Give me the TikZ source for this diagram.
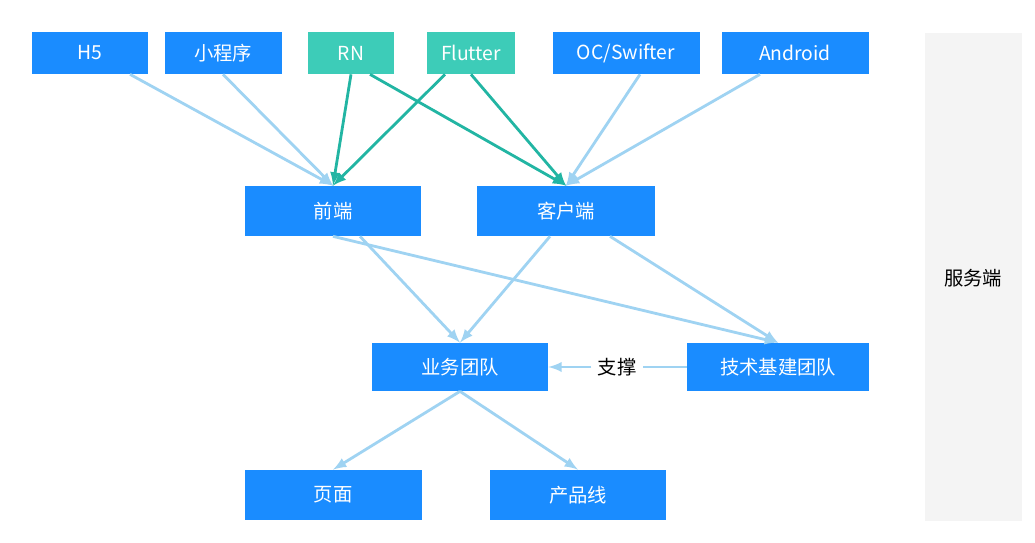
\documentclass[tikz,border=0pt]{standalone}
\usepackage{fontspec}
\setmainfont{Noto Sans CJK SC}
\definecolor{boxblue}{HTML}{1A8CFF}
\definecolor{boxteal}{HTML}{3DCCB8}
\definecolor{linkblue}{HTML}{9FD3F2}
\definecolor{linkteal}{HTML}{22B5A3}
\definecolor{srvgray}{HTML}{F4F4F4}
\tikzset{
  box/.style={rectangle, fill=boxblue, text=white, inner sep=0pt, font=\fontsize{11}{13}\selectfont},
  tealbox/.style={box, fill=boxteal},
  link/.style={-latex, draw=linkblue, line width=1.6pt},
  tlink/.style={-latex, draw=linkteal, line width=1.6pt}
}
\begin{document}
\begin{tikzpicture}[x=0.02cm, y=-0.02cm]
        \useasboundingbox (0,0) rectangle (1035,543);
        % server side
        \fill[srvgray] (925,33) rectangle (1022,521);
        \node[font=\fontsize{11}{13}\selectfont] (srv) at (973,278) {服务端};

        % top row
        \node[box, minimum width=116*0.02cm, minimum height=42*0.02cm] (h5) at (90,53) {H5};
        \node[box, minimum width=117*0.02cm, minimum height=42*0.02cm] (mini) at (223,53) {小程序};
        \node[tealbox, minimum width=86*0.02cm, minimum height=42*0.02cm] (rn) at (351,53) {RN};
        \node[tealbox, minimum width=88*0.02cm, minimum height=42*0.02cm] (flutter) at (471,53) {Flutter};
        \node[box, minimum width=147*0.02cm, minimum height=42*0.02cm] (oc) at (626,53) {OC/Swifter};
        \node[box, minimum width=147*0.02cm, minimum height=42*0.02cm] (android) at (795,53) {Android};

        % middle rows
        \node[box, minimum width=176*0.02cm, minimum height=50*0.02cm] (fe) at (333,211) {前端};
        \node[box, minimum width=178*0.02cm, minimum height=50*0.02cm] (client) at (566,211) {客户端};
        \node[box, minimum width=176*0.02cm, minimum height=48*0.02cm] (biz) at (460,367) {业务团队};
        \node[box, minimum width=182*0.02cm, minimum height=48*0.02cm] (infra) at (778,367) {技术基建团队};
        \node[font=\fontsize{11}{13}\selectfont] (support) at (617,367) {支撑};

        % bottom row
        \node[box, minimum width=177*0.02cm, minimum height=50*0.02cm] (page) at (333,495) {页面};
        \node[box, minimum width=176*0.02cm, minimum height=50*0.02cm] (prod) at (578,495) {产品线};

        \draw[link] ([xshift=40*0.02cm]h5.south) -- (fe.north);
        \draw[link] (mini.south) -- (fe.north);
        \draw[link] ([xshift=14*0.02cm]oc.south) -- (client.north);
        \draw[link] ([xshift=-35*0.02cm]android.south) -- (client.north);
        \draw[tlink] (rn.south) -- (fe.north);
        \draw[tlink] ([xshift=-26*0.02cm]flutter.south) -- (fe.north);
        \draw[tlink] ([xshift=19*0.02cm]rn.south) -- (client.north);
        \draw[tlink] (flutter.south) -- (client.north);

        \draw[link] ([xshift=27*0.02cm]fe.south) -- (biz.north);
        \draw[link] (fe.south) -- (infra.north);
        \draw[link] ([xshift=-16*0.02cm]client.south) -- (biz.north);
        \draw[link] ([xshift=44*0.02cm]client.south) -- (infra.north);

        \draw[link, -] (infra.west) -- (support.east);
        \draw[link] (support.west) -- (biz.east);

        \draw[link] (biz.south) -- (page.north);
        \draw[link] (biz.south) -- (prod.north);
    \end{tikzpicture}
\end{document}
